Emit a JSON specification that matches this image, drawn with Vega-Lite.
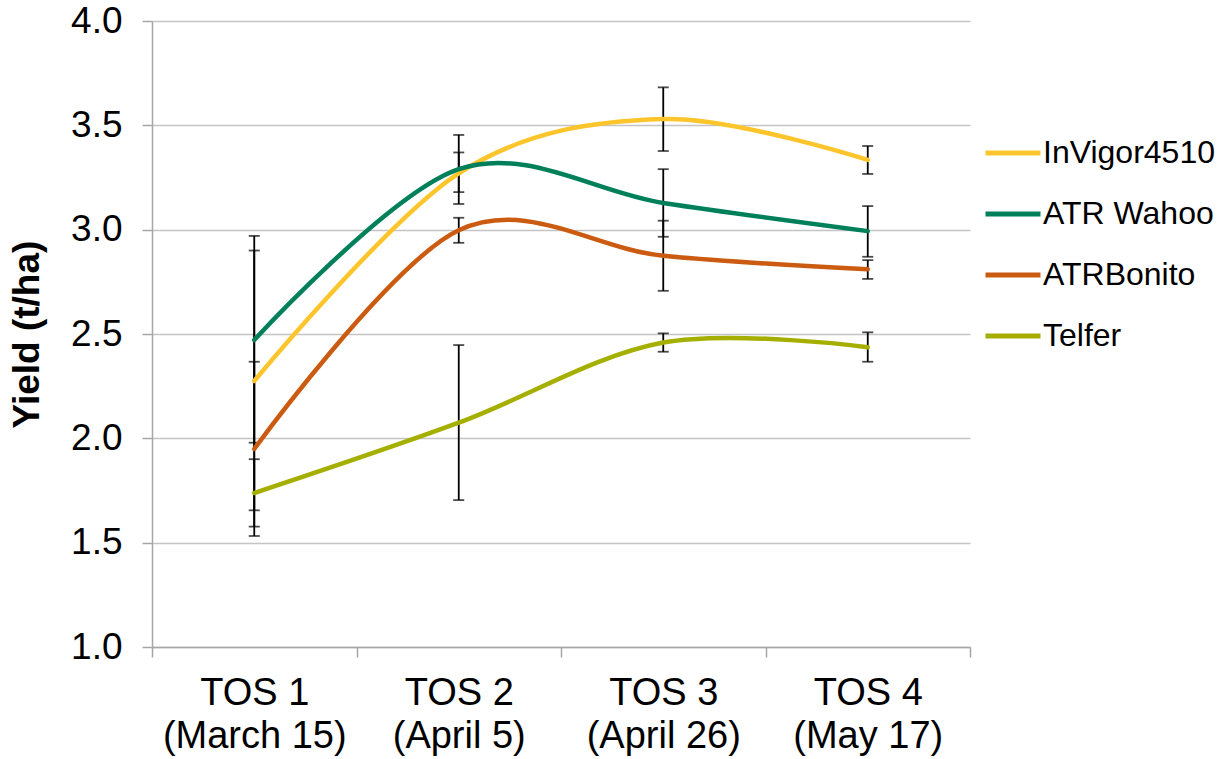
{
  "$schema": "https://vega.github.io/schema/vega-lite/v6.json",
  "width": 818,
  "height": 626,
  "autosize": "none",
  "padding": {"left": 152, "top": 21, "right": 252, "bottom": 112},
  "background": "white",
  "config": {
    "view": {"stroke": null},
    "font": "Liberation Sans",
    "axis": {"labelFont": "Liberation Sans", "titleFont": "Liberation Sans", "labelColor": "black", "titleColor": "black"}
  },
  "data": {
    "values": [
      {"tos": "TOS 1\n(March 15)", "variety": "InVigor4510", "yield": 2.275, "lo": 1.655, "hi": 2.9},
      {"tos": "TOS 2\n(April 5)", "variety": "InVigor4510", "yield": 3.27, "lo": 3.18, "hi": 3.37},
      {"tos": "TOS 3\n(April 26)", "variety": "InVigor4510", "yield": 3.53, "lo": 3.377, "hi": 3.682},
      {"tos": "TOS 4\n(May 17)", "variety": "InVigor4510", "yield": 3.334, "lo": 3.267, "hi": 3.401},
      {"tos": "TOS 1\n(March 15)", "variety": "ATR Wahoo", "yield": 2.471, "lo": 1.979, "hi": 2.97},
      {"tos": "TOS 2\n(April 5)", "variety": "ATR Wahoo", "yield": 3.29, "lo": 3.123, "hi": 3.454},
      {"tos": "TOS 3\n(April 26)", "variety": "ATR Wahoo", "yield": 3.128, "lo": 2.966, "hi": 3.29},
      {"tos": "TOS 4\n(May 17)", "variety": "ATR Wahoo", "yield": 2.993, "lo": 2.87, "hi": 3.113},
      {"tos": "TOS 1\n(March 15)", "variety": "ATRBonito", "yield": 1.949, "lo": 1.532, "hi": 2.367},
      {"tos": "TOS 2\n(April 5)", "variety": "ATRBonito", "yield": 2.997, "lo": 2.937, "hi": 3.057},
      {"tos": "TOS 3\n(April 26)", "variety": "ATRBonito", "yield": 2.875, "lo": 2.707, "hi": 3.043},
      {"tos": "TOS 4\n(May 17)", "variety": "ATRBonito", "yield": 2.81, "lo": 2.764, "hi": 2.854},
      {"tos": "TOS 1\n(March 15)", "variety": "Telfer", "yield": 1.738, "lo": 1.577, "hi": 1.9},
      {"tos": "TOS 2\n(April 5)", "variety": "Telfer", "yield": 2.075, "lo": 1.704, "hi": 2.447},
      {"tos": "TOS 3\n(April 26)", "variety": "Telfer", "yield": 2.459, "lo": 2.415, "hi": 2.503},
      {"tos": "TOS 4\n(May 17)", "variety": "Telfer", "yield": 2.437, "lo": 2.367, "hi": 2.508}
    ]
  },
  "encoding": {
    "x": {
      "field": "tos", "type": "nominal", "sort": null,
      "scale": {"type": "band", "paddingInner": 0, "paddingOuter": 0},
      "axis": {
        "title": null, "labelAngle": 0, "labelFontSize": 38, "labelLineHeight": 43, "labelLimit": 400,
        "labelExpr": "split(datum.label, '\\n')",
        "tickBand": "extent", "tickSize": 10, "tickColor": "#A6A6A6", "tickWidth": 1.5,
        "domainColor": "#A6A6A6", "domainWidth": 1.5, "labelPadding": 17, "grid": false
      }
    }
  },
  "layer": [
    {
      "mark": {"type": "rule", "color": "black", "strokeWidth": 1.8},
      "encoding": {
        "y": {"field": "lo", "type": "quantitative"},
        "y2": {"field": "hi"}
      }
    },
    {
      "mark": {"type": "tick", "color": "black", "size": 11, "thickness": 1.8},
      "encoding": {"y": {"field": "lo", "type": "quantitative"}}
    },
    {
      "mark": {"type": "tick", "color": "black", "size": 11, "thickness": 1.8},
      "encoding": {"y": {"field": "hi", "type": "quantitative"}}
    },
    {
      "mark": {"type": "line", "interpolate": "cardinal", "tension": 0, "strokeWidth": 4.5, "strokeCap": "round", "strokeJoin": "round"},
      "encoding": {
        "y": {
          "field": "yield", "type": "quantitative",
          "scale": {"domain": [1, 4], "nice": false, "zero": false},
          "axis": {
            "title": "Yield (t/ha)", "titleFontSize": 37, "titleFontWeight": "bold", "titlePadding": 24,
            "values": [1, 1.5, 2, 2.5, 3, 3.5, 4], "format": ".1f", "labelFontSize": 37, "labelPadding": 20,
            "grid": true, "gridColor": "#C4C4C4", "gridWidth": 1.5,
            "tickSize": 10, "tickColor": "#A6A6A6", "tickWidth": 1.5, "domainColor": "#A6A6A6", "domainWidth": 1.5
          }
        },
        "color": {
          "field": "variety", "type": "nominal",
          "scale": {"domain": ["InVigor4510", "ATR Wahoo", "ATRBonito", "Telfer"], "range": ["#FDC52C", "#00805A", "#CA5B11", "#A5AF00"]},
          "legend": {
            "title": null, "orient": "none", "legendX": 831, "legendY": 102,
            "symbolType": "stroke", "symbolSize": 3025, "symbolStrokeWidth": 5,
            "labelFontSize": 32, "labelOffset": 0, "labelLimit": 400, "rowPadding": 15, "labelFont": "Liberation Sans", "labelColor": "black"
          }
        }
      }
    }
  ]
}
